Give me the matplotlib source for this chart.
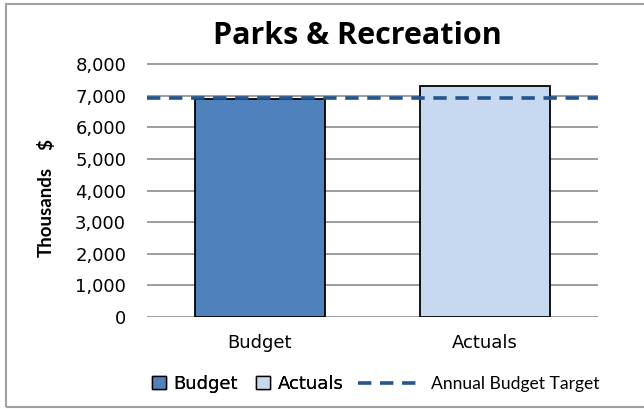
import matplotlib.pyplot as plt
from matplotlib.patches import Rectangle, Patch
from matplotlib.lines import Line2D

# --- données ---
categories = ["Budget", "Actuals"]
values = [6880, 7310]
target = 6910
bar_colors = ["#4F81BD", "#C6D9F1"]
yticks = [0, 1000, 2000, 3000, 4000, 5000, 6000, 7000, 8000]

W, H = 644, 409
dash = (0, (3.7, 2.4))
line_color = "#24558F"

fig = plt.figure(figsize=(W / 100, H / 100), dpi=100)
ax = fig.add_axes([147 / W, 1 - 317 / H, (598 - 147) / W, (317 - 62) / H])

x = range(len(categories))
ax.bar(x, values, width=0.575, color=bar_colors, edgecolor="black", linewidth=1.3, zorder=3)
ax.axhline(target, color=line_color, linestyle=dash, linewidth=2.6, zorder=4)

ax.set_xlim(-0.5, 1.5)
ax.set_ylim(0, 8000 * 255 / 253)
ax.set_yticks(yticks)
ax.set_yticklabels([f"{v:,}" for v in yticks], fontsize=13, family="DejaVu Sans")
ax.set_xticks(list(x))
ax.set_xticklabels(categories, fontsize=13, family="DejaVu Sans")
ax.tick_params(axis="x", length=0, pad=12)
ax.tick_params(axis="y", length=0, pad=15)
ax.grid(axis="y", color="#8C8C8C", linewidth=1.2, zorder=0)
for s in ax.spines.values():
    s.set_visible(False)

fig.text(357 / W, 1 - 36 / H, "Parks & Recreation", ha="center", va="center",
         fontsize=22, fontweight="bold", family="Open Sans")
fig.text(46 / W, 1 - 212 / H, "Thousands", rotation=90, ha="center", va="center",
         fontsize=13.5, fontweight="bold", family="Lato")
fig.text(46 / W, 1 - 145 / H, "$", rotation=90, ha="center", va="center",
         fontsize=13.5, fontweight="bold", family="Lato")

# légende (deux morceaux : carrés puis trait pointillé)
patches = [Patch(facecolor=c, edgecolor="black") for c in bar_colors]
leg1 = fig.legend(patches, categories, loc="center left",
                  bbox_to_anchor=(152 / W, 1 - 384 / H), ncol=2, frameon=False,
                  borderpad=0, borderaxespad=0, handlelength=0.75, handleheight=0.75,
                  handletextpad=0.45, columnspacing=1.0,
                  prop={"family": "DejaVu Sans", "size": 13})
fig.add_artist(leg1)
leg2 = fig.legend([Line2D([0], [0], color=line_color, linestyle=dash, linewidth=2.6)],
                  ["Annual Budget Target"], loc="center left",
                  bbox_to_anchor=(358 / W, 1 - 384 / H), frameon=False, borderpad=0,
                  borderaxespad=0, handlelength=3.6, handletextpad=0.55,
                  prop={"family": "Lato", "size": 12.6})

# cadre
fig.patches.append(Rectangle((6 / W, 2 / H), 1, 1 - 6 / H, transform=fig.transFigure,
                             fill=False, edgecolor="#A0A0A0", linewidth=1.5))

fig.savefig("out.png", dpi=100)
